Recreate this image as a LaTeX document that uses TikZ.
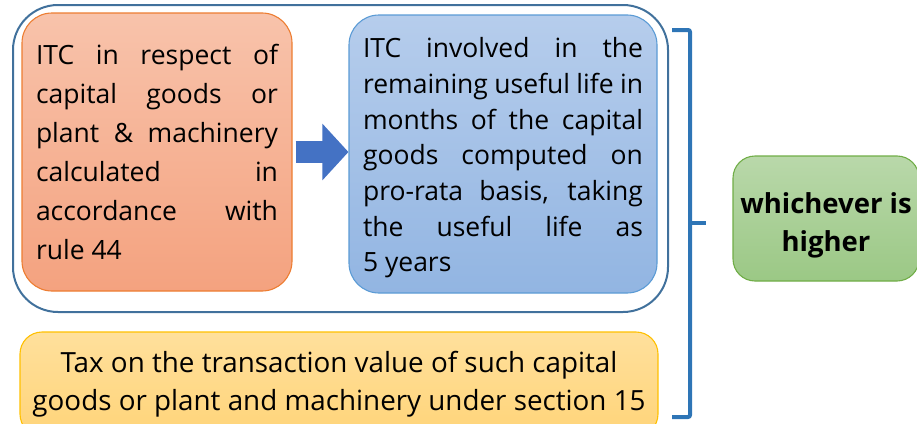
\documentclass[tikz,border=0pt]{standalone}
\usepackage{fontspec}
\setmainfont{Open Sans}
\usetikzlibrary{arrows.meta}
\tolerance=10000
\hbadness=10000
\hfuzz=20pt

\definecolor{orangetop}{HTML}{F8C3AB}
\definecolor{orangebot}{HTML}{F4A27F}
\definecolor{orangeline}{HTML}{ED7D31}
\definecolor{bluetop}{HTML}{B6CDEC}
\definecolor{bluebot}{HTML}{92B5E2}
\definecolor{blueline}{HTML}{5B9BD5}
\definecolor{yellowtop}{HTML}{FFE09C}
\definecolor{yellowbot}{HTML}{FFD479}
\definecolor{yellowline}{HTML}{FFC000}
\definecolor{greentop}{HTML}{B9D8AA}
\definecolor{greenbot}{HTML}{9BC885}
\definecolor{greenline}{HTML}{70AD47}
\definecolor{groupline}{HTML}{41719C}
\definecolor{bracketblue}{HTML}{2E75B6}
\definecolor{arrowblue}{HTML}{4472C4}

\begin{document}
\begin{tikzpicture}[x=1pt, y=-1pt,
		main box/.style={draw, rounded corners=30pt, line width=1.1pt, inner sep=0pt,
			font=\fontsize{26.5}{39}\selectfont},
		block arrow/.style={draw=arrowblue, line width=22pt, -{Triangle[length=26pt, width=55pt]}},
		bracket/.style={draw=bracketblue, line width=4pt, rounded corners=2pt}]
		
		\useasboundingbox (0,0) rectangle (917,423);
		
		\node[main box, draw=orangeline, top color=orangetop, bottom color=orangebot,
			minimum width=270pt, minimum height=278pt, text width=242pt, align=justify] (rule) at (157,152)
			{ITC in respect of\linebreak capital goods or\linebreak plant \& machinery\linebreak
			calculated in\linebreak accordance with\linebreak rule 44};
		\node[main box, draw=blueline, top color=bluetop, bottom color=bluebot,
			font=\fontsize{26.5}{35.7}\selectfont, text height=28pt,
			minimum width=308pt, minimum height=278pt, text width=280pt, align=justify] (life) at (503,154)
			{ITC involved in the\linebreak remaining useful life in\linebreak months of the capital\linebreak
			goods computed on\linebreak pro-rata basis, taking\linebreak the useful life as\linebreak 5 years};
		\node[draw=groupline, line width=2pt, rounded corners=45pt,
			minimum width=655pt, minimum height=307pt] (group) at (340.5,158.5) {};
		\node[main box, draw=yellowline, top color=yellowtop, bottom color=yellowbot, rounded corners=22pt,
			font=\fontsize{27.8}{38}\selectfont,
			minimum width=638pt, minimum height=104pt, align=center] (tax) at (339,384)
			{Tax on the transaction value of such capital\\ goods or plant and machinery under section 15};
		\node[main box, draw=greenline, top color=greentop, bottom color=greenbot, rounded corners=22pt,
			font=\fontsize{27.5}{38}\selectfont\bfseries, text height=72pt,
			minimum width=186pt, minimum height=125pt, align=center] (high) at (826,218.5)
			{whichever is\\ higher};
		
		\draw[block arrow] ([xshift=3pt]rule.east) -- (rule.east -| life.west);
		
		\coordinate (top) at (672,30);
		\coordinate (bottom) at (672,417);
		\coordinate (mid) at (706,223);
		\draw[bracket] (top) -- ++(18,0) -- ([xshift=18pt]bottom) -- (bottom);
		\draw[bracket] (mid -| 690,0) -- (mid);
		\end{tikzpicture}
\end{document}
